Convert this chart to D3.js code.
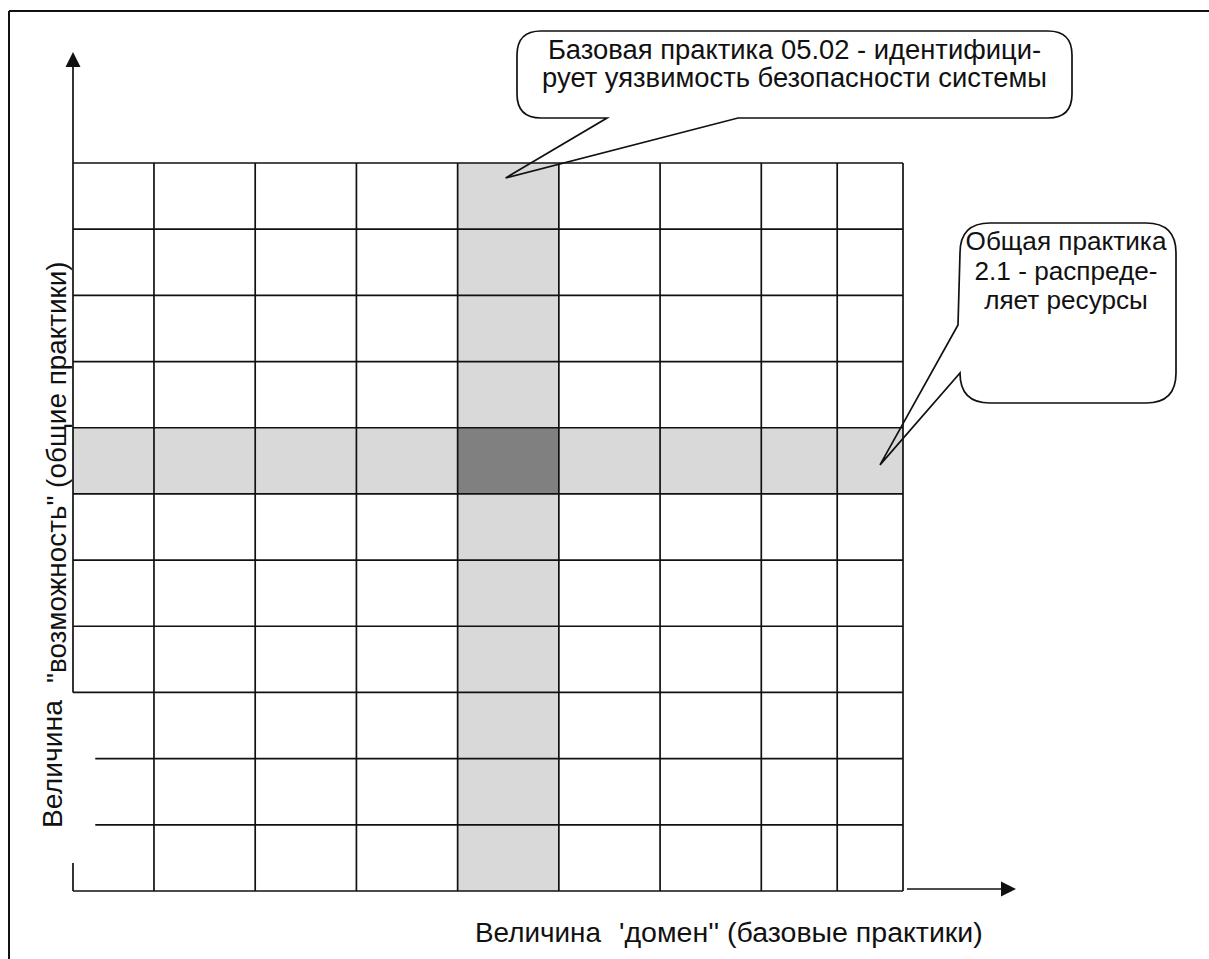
<!DOCTYPE html>
<html><head><meta charset="utf-8">
<script src="https://cdn.jsdelivr.net/npm/d3@7"></script>
<style>
html,body{margin:0;padding:0;background:#fff;}
svg{display:block;}
text{font-family:"Liberation Sans",Arial,sans-serif;fill:#111;}
</style></head>
<body>
<svg id="c" width="1209" height="959"></svg>
<script>
// ---- data ----
const columns = ["1","2","3","4","05.02","6","7","8","9"];          // базовые практики (домен)
const columnWidths = [0.8,1,1,1,1,1,1,0.75,0.65];                  // relative widths of the columns
const rows = ["1","2","3","4","2.1","6","7","8","9","10","11"];    // общие практики (возможность), top to bottom
const highlightColumn = "05.02";
const highlightRow = "2.1";
const calloutColumnText = ["Базовая практика 05.02 - идентифици-","рует уязвимость безопасности системы"];
const calloutRowText = ["Общая практика","2.1 - распреде-","ляет ресурсы"];
const xLabelParts = ["Величина","'домен'' (базовые практики)"];
const yLabelParts = ["Величина","\"возможность\" (общие практики)"];

// ---- layout ----
const W = 1209, H = 959;
const svg = d3.select("#c");
const gLeft = 73, gRight = 903, gTop = 163, gBottom = 891;
const ink = "#111", sw = 1.7;
const light = "#d9d9d9", dark = "#808080";

const colEdges = [0];
columnWidths.forEach(w => colEdges.push(colEdges[colEdges.length-1] + w));
const x = d3.scaleLinear().domain([0, d3.sum(columnWidths)]).range([gLeft, gRight]);
const y = d3.scaleBand().domain(rows).range([gTop, gBottom]);
const colX = i => x(colEdges[i]);
const colW = i => x(colEdges[i+1]) - x(colEdges[i]);

// frame
svg.append("line").attr("x1",9).attr("y1",11).attr("x2",W).attr("y2",11).attr("stroke",ink).attr("stroke-width",2);
svg.append("line").attr("x1",9).attr("y1",11).attr("x2",9).attr("y2",H).attr("stroke",ink).attr("stroke-width",2);

// highlighted stripes
const ci = columns.indexOf(highlightColumn);
svg.append("rect").attr("x", colX(ci)).attr("y", gTop).attr("width", colW(ci)).attr("height", gBottom-gTop).attr("fill", light);
svg.append("rect").attr("x", gLeft).attr("y", y(highlightRow)).attr("width", gRight-gLeft).attr("height", y.bandwidth()).attr("fill", light);
svg.append("rect").attr("x", colX(ci)).attr("y", y(highlightRow)).attr("width", colW(ci)).attr("height", y.bandwidth()).attr("fill", dark);

// horizontal grid lines (row boundaries)
const rowBounds = rows.map(r => y(r)).concat([gBottom]);
const shortStart = x(0.22);
svg.append("g").selectAll("line").data(rowBounds).join("line")
  .attr("x1", (d,i) => (i===9 || i===10) ? shortStart : gLeft)
  .attr("x2", gRight)
  .attr("y1", d => d).attr("y2", d => d)
  .attr("stroke", ink).attr("stroke-width", sw);

// vertical grid lines (column boundaries, except axis)
svg.append("g").selectAll("line").data(colEdges.slice(1)).join("line")
  .attr("x1", d => x(d)).attr("x2", d => x(d))
  .attr("y1", gTop).attr("y2", gBottom)
  .attr("stroke", ink).attr("stroke-width", sw);

// y axis with arrow (gap where label passes)
const tipY = 52, head = 15;
svg.append("line").attr("x1",gLeft).attr("x2",gLeft).attr("y1",tipY+head-1).attr("y2",rowBounds[8]).attr("stroke",ink).attr("stroke-width",sw);
svg.append("line").attr("x1",gLeft).attr("x2",gLeft).attr("y1",gBottom-28).attr("y2",gBottom).attr("stroke",ink).attr("stroke-width",sw);
svg.append("path").attr("d",`M${gLeft},${tipY} L${gLeft-7.5},${tipY+head} L${gLeft+7.5},${tipY+head} Z`).attr("fill",ink);

// x axis arrow
const tipX = 1016, ay = gBottom - 2;
svg.append("line").attr("x1",gRight+4).attr("x2",tipX-head+1).attr("y1",ay).attr("y2",ay).attr("stroke",ink).attr("stroke-width",sw);
svg.append("path").attr("d",`M${tipX},${ay} L${tipX-head},${ay-7.5} L${tipX-head},${ay+7.5} Z`).attr("fill",ink);

// helper: fit font size so text spans target width
function fit(sel, target, base){
  sel.style("font-size", base+"px");
  const w = sel.node().getComputedTextLength();
  const fs = base * target / w;
  sel.style("font-size", fs+"px");
  return fs;
}

// callout 1 (column)
const c1 = {x0:517, x1:1072, y0:31, y1:118, r:24};
const tip1 = [colX(ci) + 48, gTop + 15];
svg.append("path").attr("fill","none").attr("stroke",ink).attr("stroke-width",sw)
  .attr("d", `M${c1.x0+c1.r},${c1.y0} L${c1.x1-c1.r},${c1.y0} Q${c1.x1},${c1.y0} ${c1.x1},${c1.y0+c1.r}
    L${c1.x1},${c1.y1-c1.r} Q${c1.x1},${c1.y1} ${c1.x1-c1.r},${c1.y1}
    L738,${c1.y1} L${tip1[0]},${tip1[1]} L607,${c1.y1}
    L${c1.x0+c1.r},${c1.y1} Q${c1.x0},${c1.y1} ${c1.x0},${c1.y1-c1.r}
    L${c1.x0},${c1.y0+c1.r} Q${c1.x0},${c1.y0} ${c1.x0+c1.r},${c1.y0} Z`);
const cx1 = (c1.x0+c1.x1)/2;
const t1b = svg.append("text").attr("x",cx1).attr("y",87).attr("text-anchor","middle").text(calloutColumnText[1]);
const fs1 = fit(t1b, 505, 22);
svg.append("text").attr("x",cx1).attr("y",59).attr("text-anchor","middle").style("font-size",fs1+"px").text(calloutColumnText[0]);

// callout 2 (row)
const c2 = {x0:960, x1:1176, y0:223, y1:403, r:30};
const tip2 = [gRight - 23, y(highlightRow) + y.bandwidth() - 29];
svg.append("path").attr("fill","none").attr("stroke",ink).attr("stroke-width",sw)
  .attr("d", `M${c2.x0+c2.r},${c2.y0} L${c2.x1-c2.r},${c2.y0} Q${c2.x1},${c2.y0} ${c2.x1},${c2.y0+c2.r}
    L${c2.x1},${c2.y1-c2.r} Q${c2.x1},${c2.y1} ${c2.x1-c2.r},${c2.y1}
    L${c2.x0+c2.r},${c2.y1} Q${c2.x0},${c2.y1} ${c2.x0},${c2.y1-c2.r}
    L${c2.x0},373 L${tip2[0]},${tip2[1]} L${c2.x0-2},325
    L${c2.x0},${c2.y0+c2.r} Q${c2.x0},${c2.y0} ${c2.x0+c2.r},${c2.y0} Z`);
const cx2 = 1066;
const t2a = svg.append("text").attr("x",cx2).attr("y",250).attr("text-anchor","middle").text(calloutRowText[0]);
const fs2 = fit(t2a, 201, 22);
svg.append("text").attr("x",cx2).attr("y",280).attr("text-anchor","middle").style("font-size",fs2+"px").text(calloutRowText[1]);
svg.append("text").attr("x",cx2).attr("y",309).attr("text-anchor","middle").style("font-size",fs2+"px").text(calloutRowText[2]);

// x label
const xl1 = svg.append("text").attr("x",475).attr("y",942).text(xLabelParts[0]);
fit(xl1, 126, 24);
const xl2 = svg.append("text").attr("x",619).attr("y",942).text(xLabelParts[1]);
fit(xl2, 364, 24);

// y label (rotated)
const yl1 = svg.append("text").attr("transform","translate(62,828) rotate(-90)").text(yLabelParts[0]);
fit(yl1, 128, 24);
const yl2 = svg.append("text").attr("transform","translate(66,683) rotate(-90)").text(yLabelParts[1]);
fit(yl2, 422, 24);
</script>
</body></html>
